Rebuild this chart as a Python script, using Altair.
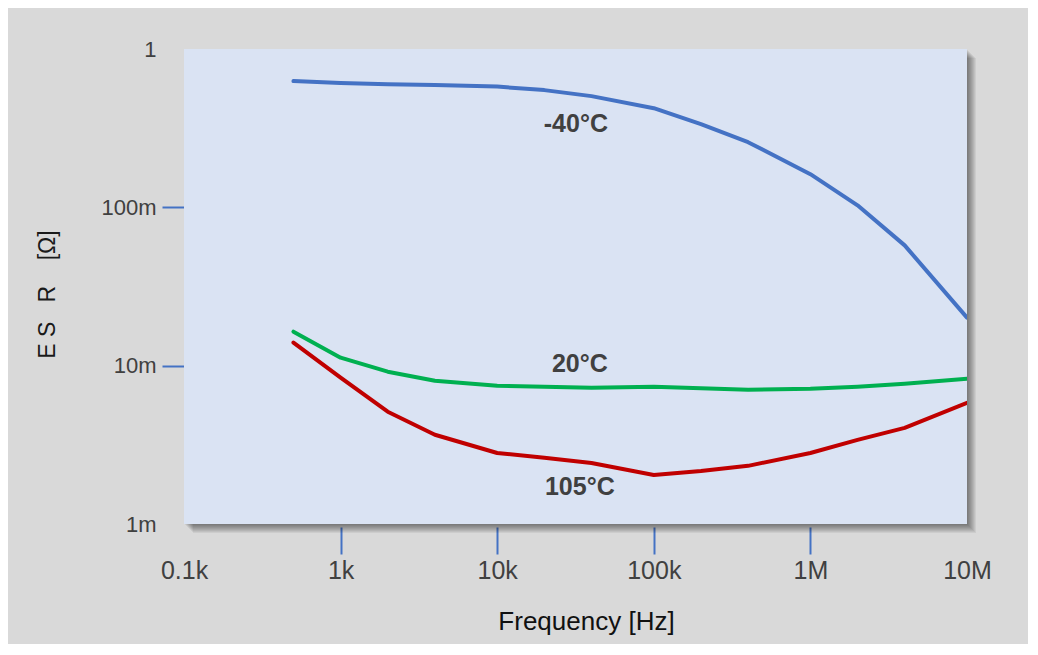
import altair as alt
import pandas as pd

# ---- data ----
freq_hz = [500, 1e3, 2e3, 4e3, 1e4, 2e4, 4e4, 1e5, 2e5, 4e5, 1e6, 2e6, 4e6, 1e7]
esr_m40 = [0.627, 0.609, 0.600, 0.592, 0.579, 0.550, 0.504, 0.423, 0.335, 0.258, 0.162, 0.103, 0.0575, 0.0201]
esr_20 = [0.0164, 0.01124, 0.00916, 0.00803, 0.00747, 0.00736, 0.00726, 0.00736, 0.00721, 0.00705, 0.00715, 0.00736, 0.00769, 0.00828]
esr_105 = [0.0140, 0.00840, 0.00512, 0.00366, 0.00281, 0.00262, 0.00243, 0.00204, 0.00216, 0.00233, 0.00281, 0.00340, 0.00405, 0.00583]

series_names = ["-40°C", "20°C", "105°C"]
series_colors = ["#4472c4", "#00b050", "#c00000"]

label_text = ["-40°C", "20°C", "105°C"]
label_freq = [31800, 33700, 33700]
label_esr = [0.335, 0.0103, 0.00171]

x_ticks = [100, 1e3, 1e4, 1e5, 1e6, 1e7]
y_ticks = [0.001, 0.01, 0.1, 1]

rows = []
for name, vals in zip(series_names, [esr_m40, esr_20, esr_105]):
    for f, v in zip(freq_hz, vals):
        rows.append({"series": name, "freq": f, "esr": v})
df = pd.DataFrame(rows)
labels_df = pd.DataFrame({"text": label_text, "freq": label_freq, "esr": label_esr})
one = pd.DataFrame({"k": [0]})

W, H = 783, 475

xscale = alt.Scale(type="log", domain=[100, 1e7], nice=False)
yscale = alt.Scale(type="log", domain=[0.001, 1], nice=False)

xaxis = alt.Axis(
    values=x_ticks,
    labelExpr="datum.value < 1000 ? '0.1k' : (datum.value < 1e6 ? format(datum.value/1000, '.0f') + 'k' : format(datum.value/1e6, '.0f') + 'M')",
    title="Frequency [Hz]",
    titleFont="Liberation Sans", titleFontSize=26, titleFontWeight="normal", titleColor="#111111",
    titleX=402, titleY=94, titleBaseline="middle", titleAnchor="middle",
    labelFont="Liberation Sans", labelFontSize=25, labelColor="#404040",
    labelPadding=4, labelFlush=False, labelOverlap=False, labelBound=False,
    domain=False, grid=False, ticks=True, tickSize=27, tickWidth=2, tickColor="#4472c4",
    tickOpacity=alt.ExprRef(expr="datum.value > 500 && datum.value < 5e6 ? 1 : 0"),
    offset=3,
)
yaxis = alt.Axis(
    values=y_ticks,
    labelExpr="datum.value >= 1 ? '1' : format(datum.value * 1000, '.0f') + 'm'",
    title="E\u00a0S\u00a0\u00a0\u00a0R\u00a0\u00a0\u00a0\u00a0[Ω]",
    titleFont="Liberation Sans", titleFontSize=23, titleFontWeight="normal", titleColor="#1a1a1a",
    titleAngle=-90, titleX=-137, titleY=245, titleBaseline="middle", titleAlign="center",
    labelFont="Liberation Sans", labelFontSize=22, labelColor="#404040",
    labelPadding=6, labelFlush=False, labelOverlap=False, labelBound=False,
    domain=False, grid=False, ticks=True, tickSize=22, tickWidth=2, tickColor="#4472c4",
    tickOpacity=alt.ExprRef(expr="datum.value > 0.005 && datum.value < 0.5 ? 1 : 0"),
)


def area_rect(**mark_kw):
    return alt.Chart(one).mark_rect(**mark_kw).encode(
        x=alt.X(datum=100, type="quantitative", scale=xscale, axis=xaxis),
        x2=alt.X2(datum=1e7),
        y=alt.Y(datum=1, type="quantitative", scale=yscale, axis=yaxis),
        y2=alt.Y2(datum=0.001),
    )


shadows = [
    area_rect(color="#000000", opacity=0.06, xOffset=o, x2Offset=o, yOffset=o, y2Offset=o)
    for o in range(1, 10)
]
plot_bg = area_rect(color="#dae3f3")

lines = alt.Chart(df).mark_line(strokeWidth=4, strokeCap="round", strokeJoin="round", clip=True).encode(
    x=alt.X("freq:Q", scale=xscale, axis=xaxis),
    y=alt.Y("esr:Q", scale=yscale, axis=yaxis),
    color=alt.Color("series:N", scale=alt.Scale(domain=series_names, range=series_colors), legend=None),
    detail="series:N",
)

texts = alt.Chart(labels_df).mark_text(
    font="Liberation Sans", fontSize=25, fontWeight="bold", color="#404040",
    align="center", baseline="middle",
).encode(
    x=alt.X("freq:Q", scale=xscale, axis=xaxis),
    y=alt.Y("esr:Q", scale=yscale, axis=yaxis),
    text="text:N",
)

chart = alt.layer(*shadows, plot_bg, lines, texts).properties(
    width=W, height=H,
    background="#d9d9d9",
    autosize=alt.AutoSizeParams(type="none"),
    padding={"left": 176, "top": 41, "right": 1020 - 176 - W, "bottom": 636 - 41 - H},
).configure_view(stroke=None, fill=None)

chart.save("out.html", embed_options={"renderer": "svg", "actions": False})
